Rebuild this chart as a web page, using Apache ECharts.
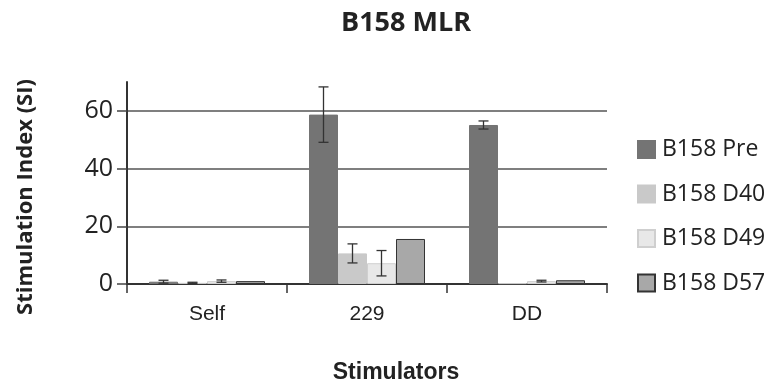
<!DOCTYPE html>
<html>
<head>
<meta charset="utf-8">
<script src="https://cdn.jsdelivr.net/npm/echarts@6/dist/echarts.min.js"></script>
<style>
  html, body { margin: 0; padding: 0; background: #fff; }
  #chart { width: 773px; height: 388px; }
</style>
</head>
<body>
<div id="chart"></div>
<script>
// stimulators on the x axis
const categories = ['Self', '229', 'DD']
const seriesNames = ['B158 Pre', 'B158 D40', 'B158 D49', 'B158 D57']

// mean SI per series, one value per stimulator
const preValues = [0.8, 58.7, 55.1]
const d40Values = [0.4, 10.6, 0.3]
const d49Values = [1.0, 7.2, 1.0]
const d57Values = [1.0, 15.6, 1.3]

// error bar half-widths (0 = no bar drawn)
const preErr = [0.5, 9.6, 1.4]
const d40Err = [0.2, 3.3, 0]
const d49Err = [0.4, 4.4, 0.3]
const d57Err = [0, 0, 0]

const yTicks = [0, 20, 40, 60]

const values = [preValues, d40Values, d49Values, d57Values]
const errors = [preErr, d40Err, d49Err, d57Err]
const colors = ['#747474', '#c9c9c9', '#e8e8e8', '#a8a8a8']
const borders = ['#747474', '#c9c9c9', '#cfcfcf', '#333333']

const CAT_GAP = 0.275

const chart = echarts.init(document.getElementById('chart'))

const barSeries = seriesNames.map((name, i) => ({
  name: name,
  type: 'bar',
  data: values[i],
  barGap: '0%',
  barCategoryGap: (CAT_GAP * 100) + '%',
  itemStyle: { color: colors[i], borderColor: borders[i], borderWidth: 1 }
}))

// error bars as a custom series, placed over each bar in the group
const errData = []
errors.forEach((arr, s) => {
  arr.forEach((e, c) => {
    if (e > 0) errData.push([c, values[s][c], e, s])
  })
})

const errSeries = {
  type: 'custom',
  name: 'err',
  data: errData,
  z: 5,
  silent: true,
  renderItem: function (params, api) {
    const c = api.value(0)
    const mean = api.value(1)
    const e = api.value(2)
    const s = api.value(3)
    const band = api.size([1, 0])[0]
    const barW = band * (1 - CAT_GAP) / seriesNames.length
    const center = api.coord([c, mean])[0] + (s - (seriesNames.length - 1) / 2) * barW
    const top = api.coord([c, mean + e])[1]
    const bot = api.coord([c, Math.max(0, mean - e)])[1]
    const hw = 5
    const style = { stroke: '#333', lineWidth: 1.3 }
    return {
      type: 'group',
      children: [
        { type: 'line', shape: { x1: center, y1: top, x2: center, y2: bot }, style: style },
        { type: 'line', shape: { x1: center - hw, y1: top, x2: center + hw, y2: top }, style: style },
        { type: 'line', shape: { x1: center - hw, y1: bot, x2: center + hw, y2: bot }, style: style }
      ]
    }
  }
}

chart.setOption({
  animation: false,
  title: [
    {
      text: 'B158 MLR',
      left: 401,
      top: 5,
      textAlign: 'center',
      textStyle: { fontFamily: 'Open Sans', fontWeight: 'bold', fontSize: 27, color: '#222' }
    },
    {
      text: 'Stimulators',
      left: 391,
      top: 356,
      textAlign: 'center',
      textStyle: { fontFamily: 'Liberation Sans', fontWeight: 'bold', fontSize: 23, color: '#222' }
    }
  ],
  graphic: [
    {
      type: 'text',
      x: 26,
      y: 197,
      rotation: Math.PI / 2,
      style: {
        text: 'Stimulation Index (SI)',
        fontFamily: 'Open Sans',
        fontWeight: 'bold',
        fontSize: 22,
        fill: '#222',
        align: 'center',
        verticalAlign: 'middle'
      }
    }
  ],
  legend: {
    data: seriesNames,
    orient: 'vertical',
    left: 632,
    top: 133,
    itemWidth: 17,
    itemHeight: 17,
    itemGap: 21.5,
    icon: 'rect',
    textStyle: { fontFamily: 'Open Sans', fontSize: 23, color: '#222', padding: [0, 0, 0, 2] }
  },
  grid: { left: 127, right: 166, top: 82, bottom: 104 },
  xAxis: {
    type: 'category',
    data: categories,
    axisLine: { lineStyle: { color: '#333', width: 2 } },
    axisTick: { show: true, length: 9, lineStyle: { color: '#333', width: 1.5 } },
    axisLabel: { fontFamily: 'Liberation Sans', fontSize: 21, color: '#222', margin: 20 }
  },
  yAxis: {
    type: 'value',
    min: 0,
    max: 70,
    interval: 20,
    axisLine: { show: true, lineStyle: { color: '#333', width: 2 } },
    axisTick: { show: true, length: 10, customValues: yTicks, lineStyle: { color: '#444', width: 1.5 } },
    axisLabel: { customValues: yTicks, fontFamily: 'Open Sans', fontSize: 25, color: '#222', margin: 14 },
    splitLine: { show: true, lineStyle: { color: '#555', width: 1.5 } }
  },
  series: [...barSeries, errSeries]
})
</script>
</body>
</html>
